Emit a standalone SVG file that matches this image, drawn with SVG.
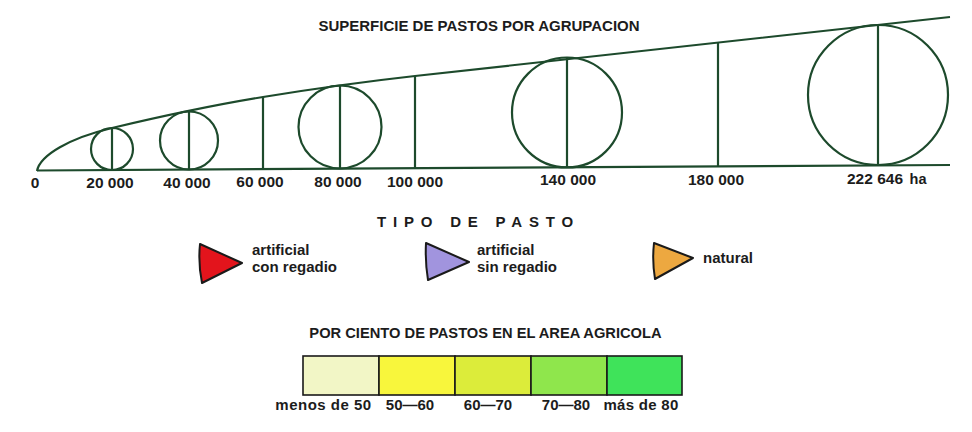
<svg xmlns="http://www.w3.org/2000/svg" width="972" height="432" viewBox="0 0 972 432">
<style>
.t{font-family:"Liberation Sans",Arial,sans-serif;font-weight:bold;fill:#1c1c1c}
.ln{fill:none;stroke:#1d4a2c;stroke-width:2.2}
.tri{stroke:#1a1a1a;stroke-width:2;stroke-linejoin:round}
.cell{stroke:#1a1a1a;stroke-width:1.6}
</style>
<rect width="972" height="432" fill="#ffffff"/>
<text class="t" x="479" y="31" font-size="15" text-anchor="middle">SUPERFICIE DE PASTOS POR AGRUPACION</text>

<g id="chart">
  <path class="ln" d="M37,171 C40,155 70,138 112,128 S220,104 263,97 S370,81 415,76 L950,17"/>
  <line class="ln" x1="37" y1="170.5" x2="950" y2="165"/>
  <line class="ln" x1="263" y1="97" x2="263" y2="169.2"/>
  <line class="ln" x1="415" y1="76" x2="415" y2="168.3"/>
  <line class="ln" x1="718" y1="42" x2="718" y2="166.4"/>
</g>
<g id="c20000">
  <circle class="ln" cx="112" cy="149" r="21"/>
  <line class="ln" x1="112" y1="128" x2="112" y2="170"/>
</g>
<g id="c40000">
  <circle class="ln" cx="189" cy="140.5" r="29"/>
  <line class="ln" x1="189" y1="112" x2="189" y2="169.6"/>
</g>
<g id="c80000">
  <circle class="ln" cx="340" cy="127" r="41.5"/>
  <line class="ln" x1="340" y1="86" x2="340" y2="168.7"/>
</g>
<g id="c140000">
  <circle class="ln" cx="567" cy="112.5" r="55"/>
  <line class="ln" x1="567" y1="58" x2="567" y2="167.3"/>
</g>
<g id="c222646">
  <circle class="ln" cx="878" cy="95" r="70"/>
  <line class="ln" x1="878" y1="25" x2="878" y2="165.4"/>
</g>
<g id="axis-labels" class="t" font-size="15.5" text-anchor="middle">
  <text x="35" y="188">0</text>
  <text x="110" y="188">20 000</text>
  <text x="187" y="187.5">40 000</text>
  <text x="260" y="187">60 000</text>
  <text x="338" y="187">80 000</text>
  <text x="415" y="186.5">100 000</text>
  <text x="568" y="185">140 000</text>
  <text x="716" y="184.5">180 000</text>
  <text x="875" y="184">222 646</text>
  <text x="918" y="184" font-size="14.5">ha</text>
</g>

<text class="t" x="377" y="227" font-size="15" letter-spacing="6.8">TIPO DE PASTO</text>
<g id="leg-artificial-regadio">
  <path class="tri" fill="#e3141c" d="M200,244 L242,263 L202,283 Q198,263 200,244 Z"/>
  <text class="t" x="252" y="255" font-size="15">artificial</text>
  <text class="t" x="252" y="272" font-size="15">con regadio</text>
</g>
<g id="leg-artificial-sin">
  <path class="tri" fill="#a194de" d="M426,243 L469,262 L428,280 Q425,262 426,243 Z"/>
  <text class="t" x="477" y="255" font-size="15">artificial</text>
  <text class="t" x="477" y="272" font-size="15">sin regadio</text>
</g>
<g id="leg-natural">
  <path class="tri" fill="#eda840" d="M654,243 L693,258 L655,279 Q652,261 654,243 Z"/>
  <text class="t" x="703" y="263" font-size="15">natural</text>
</g>

<text class="t" x="485.5" y="338" font-size="14.7" text-anchor="middle">POR CIENTO DE PASTOS EN EL AREA AGRICOLA</text>
<g id="scale">
  <rect class="cell" x="303" y="356" width="76" height="39" fill="#f2f6c6"/>
  <rect class="cell" x="379" y="356" width="76" height="39" fill="#f8f63c"/>
  <rect class="cell" x="455" y="356" width="76" height="39" fill="#dcec3a"/>
  <rect class="cell" x="531" y="356" width="76" height="39" fill="#8fe64c"/>
  <rect class="cell" x="607" y="356" width="75" height="39" fill="#3fe35a"/>
</g>
<g id="scale-labels" class="t" font-size="15" text-anchor="middle">
  <text x="323.5" y="410" letter-spacing="0.5">menos de 50</text>
  <text x="410" y="410">50—60</text>
  <text x="488" y="410">60—70</text>
  <text x="566" y="410">70—80</text>
  <text x="641" y="410" letter-spacing="0.3">más de 80</text>
</g>
</svg>
